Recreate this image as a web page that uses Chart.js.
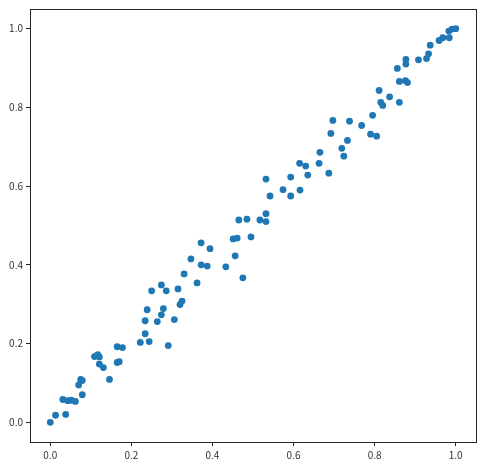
<!DOCTYPE html>
<html>
<head>
<meta charset="utf-8">
<script src="https://cdn.jsdelivr.net/npm/chart.js@4.4.0/dist/chart.umd.min.js"></script>
<style>
  body { margin: 0; background: #fff; }
  canvas { display: block; }
</style>
</head>
<body>
<canvas id="scatter" width="482" height="465"></canvas>
<script>
// valeurs
const xs = [0.000, 0.013, 0.038, 0.031, 0.043, 0.052, 0.062, 0.079, 0.070, 0.075,
  0.079, 0.109, 0.117, 0.121, 0.121, 0.131, 0.146, 0.165, 0.178, 0.165,
  0.170, 0.222, 0.244, 0.234, 0.234, 0.239, 0.264, 0.274, 0.279, 0.291,
  0.306, 0.320, 0.325, 0.250, 0.274, 0.286, 0.315, 0.330, 0.362, 0.347,
  0.372, 0.387, 0.372, 0.394, 0.433, 0.456, 0.475, 0.451, 0.461, 0.495,
  0.465, 0.485, 0.517, 0.532, 0.532, 0.542, 0.532, 0.574, 0.593, 0.593,
  0.616, 0.615, 0.630, 0.635, 0.663, 0.665, 0.687, 0.692, 0.697, 0.719,
  0.724, 0.733, 0.738, 0.768, 0.795, 0.790, 0.805, 0.811, 0.815, 0.820,
  0.837, 0.861, 0.856, 0.861, 0.876, 0.881, 0.877, 0.877, 0.908, 0.928,
  0.933, 0.937, 0.959, 0.968, 0.984, 0.983, 0.991, 1.000];
const ys = [0.000, 0.018, 0.020, 0.058, 0.055, 0.056, 0.053, 0.070, 0.095, 0.109,
  0.106, 0.167, 0.172, 0.166, 0.148, 0.139, 0.109, 0.192, 0.190, 0.152,
  0.154, 0.203, 0.205, 0.225, 0.258, 0.286, 0.256, 0.273, 0.289, 0.195,
  0.261, 0.299, 0.308, 0.334, 0.349, 0.334, 0.339, 0.377, 0.354, 0.415,
  0.400, 0.397, 0.456, 0.441, 0.395, 0.423, 0.367, 0.466, 0.468, 0.471,
  0.514, 0.516, 0.514, 0.530, 0.510, 0.575, 0.618, 0.591, 0.575, 0.623,
  0.590, 0.658, 0.651, 0.628, 0.658, 0.686, 0.633, 0.734, 0.767, 0.696,
  0.676, 0.716, 0.765, 0.754, 0.780, 0.732, 0.727, 0.843, 0.813, 0.805,
  0.827, 0.813, 0.899, 0.866, 0.868, 0.863, 0.922, 0.910, 0.921, 0.924,
  0.936, 0.958, 0.970, 0.977, 0.977, 0.994, 0.999, 1.000];
const tickVals = [0.0, 0.2, 0.4, 0.6, 0.8, 1.0];

const points = xs.map((x, i) => ({ x: x, y: ys[i] }));

// cadre complet autour de la zone du graphique
const framePlugin = {
  id: 'frame',
  afterDraw(chart) {
    const a = chart.chartArea;
    const ctx = chart.ctx;
    ctx.save();
    ctx.strokeStyle = '#262626';
    ctx.lineWidth = 1;
    ctx.strokeRect(Math.round(a.left) + 0.5, Math.round(a.top) + 0.5,
      Math.round(a.right - a.left), Math.round(a.bottom - a.top));
    ctx.restore();
  }
};

const axisOpts = (extra) => Object.assign({
  type: 'linear',
  min: -0.05,
  max: 1.05,
  afterBuildTicks: scale => { scale.ticks = tickVals.map(v => ({ value: v })); },
  grid: { drawOnChartArea: false, drawTicks: true, tickLength: 4, color: '#262626' },
  border: { display: true, color: '#262626' },
  ticks: {
    color: '#333',
    font: { family: '"Noto Sans CJK KR", "DejaVu Sans", sans-serif', size: 10 },
    callback: v => Number(v).toFixed(1),
    autoSkip: false,
    maxRotation: 0
  }
}, extra);

new Chart(document.getElementById('scatter').getContext('2d'), {
  type: 'scatter',
  data: {
    datasets: [{
      data: points,
      backgroundColor: '#1f77b4',
      borderColor: '#1f77b4',
      borderWidth: 0,
      pointRadius: 3.4,
      pointHoverRadius: 3.4
    }]
  },
  options: {
    responsive: false,
    animation: false,
    layout: { padding: { top: 7, right: 6, left: 0, bottom: 0 } },
    plugins: { legend: { display: false }, tooltip: { enabled: false } },
    scales: {
      x: axisOpts({ afterFit: s => { s.height = 23; } }),
      y: axisOpts({ afterFit: s => { s.width = 30; } })
    }
  },
  plugins: [framePlugin]
});
</script>
</body>
</html>
